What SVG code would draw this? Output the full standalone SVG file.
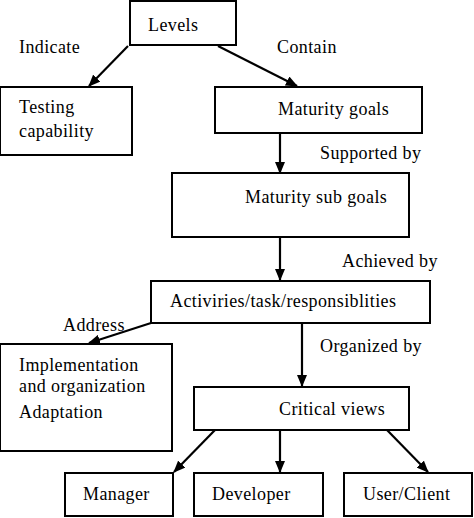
<svg xmlns="http://www.w3.org/2000/svg" width="474" height="518" viewBox="0 0 474 518">
<style>
.box{fill:#fff;stroke:#000;stroke-width:2}
.lbl{font-size:18px;letter-spacing:0.4px;fill:#000}
.con{stroke:#000;stroke-width:2.2;fill:none;marker-end:url(#ah)}
</style>
<defs>
<marker id="ah" markerUnits="userSpaceOnUse" markerWidth="12" markerHeight="10" refX="11" refY="5" orient="auto">
<path d="M0,0 L12,5 L0,10 Z" fill="#000"/>
</marker>
</defs>
<rect width="474" height="518" fill="#fff"/>
<g font-family="Liberation Serif, DejaVu Serif, serif">
<g id="connectors">
<line class="con" x1="128" y1="46" x2="89" y2="86"/>
<line class="con" x1="218" y1="46" x2="297" y2="86"/>
<line class="con" x1="280" y1="133" x2="280" y2="173"/>
<line class="con" x1="280" y1="237" x2="280" y2="280"/>
<line class="con" x1="151" y1="323" x2="89" y2="343"/>
<line class="con" x1="302" y1="323" x2="302" y2="386"/>
<line class="con" x1="215" y1="430" x2="174" y2="472"/>
<line class="con" x1="280" y1="430" x2="280" y2="472"/>
<line class="con" x1="387" y1="430" x2="428" y2="472"/>
<text class="lbl" x="19" y="53">Indicate</text>
<text class="lbl" x="277" y="53">Contain</text>
<text class="lbl" x="320" y="159">Supported by</text>
<text class="lbl" x="342" y="267">Achieved by</text>
<text class="lbl" x="63" y="331">Address</text>
<text class="lbl" x="320" y="352">Organized by</text>
</g>
<g id="levels"><rect class="box" x="130" y="1" width="106" height="44"/><text class="lbl" x="148" y="31">Levels</text></g>
<g id="testing"><rect class="box" x="0" y="87" width="132" height="68"/><text class="lbl" x="19" y="113">Testing</text><text class="lbl" x="19" y="137">capability</text></g>
<g id="maturity-goals"><rect class="box" x="215" y="87" width="207" height="46"/><text class="lbl" x="278" y="115">Maturity goals</text></g>
<g id="maturity-sub-goals"><rect class="box" x="172" y="173" width="237" height="64"/><text class="lbl" x="245" y="203">Maturity sub goals</text></g>
<g id="activities"><rect class="box" x="151" y="281" width="279" height="42"/><text class="lbl" x="170" y="307">Activiries/task/responsiblities</text></g>
<g id="implementation"><rect class="box" x="0" y="344" width="172" height="107"/><text class="lbl" x="19" y="371">Implementation</text><text class="lbl" x="19" y="392">and organization</text><text class="lbl" x="19" y="418">Adaptation</text></g>
<g id="critical-views"><rect class="box" x="194" y="387" width="215" height="43"/><text class="lbl" x="279" y="415">Critical views</text></g>
<g id="manager"><rect class="box" x="65" y="473" width="108" height="43"/><text class="lbl" x="83" y="500">Manager</text></g>
<g id="developer"><rect class="box" x="194" y="473" width="129" height="43"/><text class="lbl" x="212" y="500">Developer</text></g>
<g id="user-client"><rect class="box" x="344" y="473" width="128" height="43"/><text class="lbl" x="363" y="500">User/Client</text></g>
</g>
</svg>
